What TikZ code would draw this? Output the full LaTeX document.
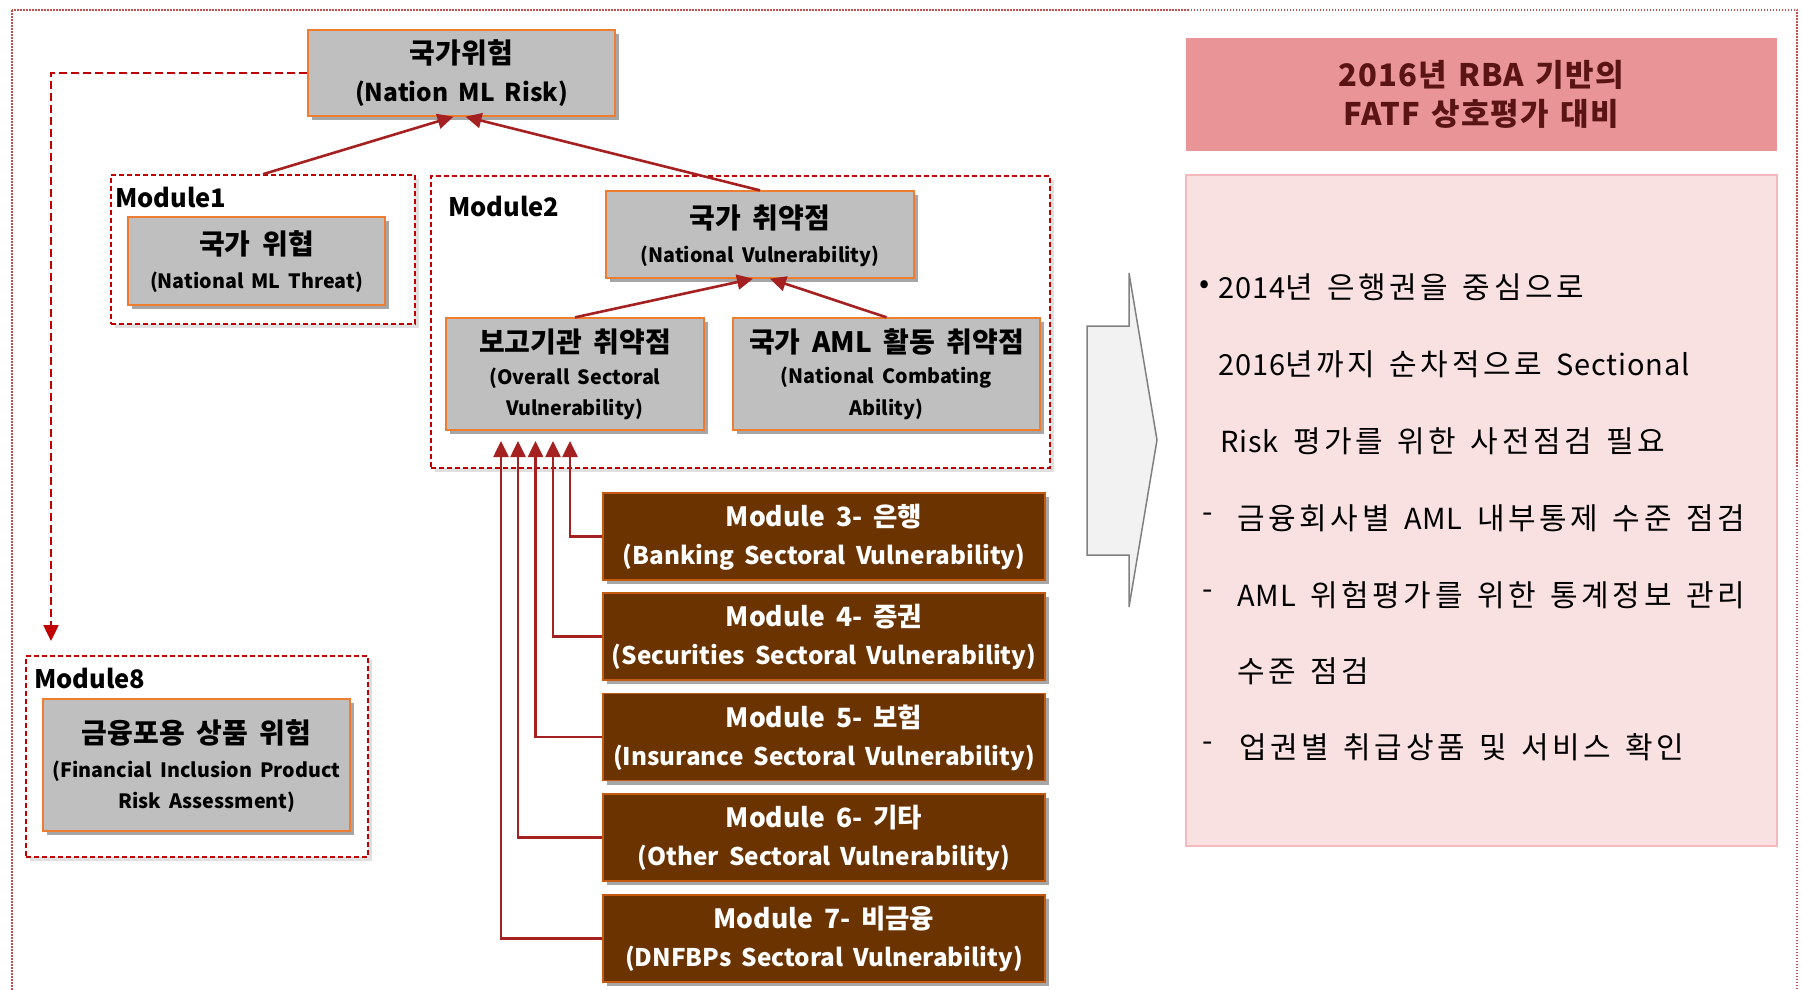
\documentclass[tikz,border=0pt]{standalone}
\usepackage{fontspec}
\setmainfont{Noto Sans CJK KR}
\newfontfamily\bxfam{Noto Sans CJK KR}[WordSpace=1.8]
\newfontfamily\rtfam{Noto Sans CJK KR}[LetterSpace=12,WordSpace=1.4]
\newfontfamily\rtlatfam{Noto Sans CJK KR}[LetterSpace=3,WordSpace=1.4]
\newfontfamily\ttlfam{Noto Sans CJK KR}[LetterSpace=3.5,WordSpace=1.4]
\usetikzlibrary{arrows.meta,shadows,calc}
\definecolor{bgray}{HTML}{BFBFBF}
\definecolor{borange}{HTML}{ED7D31}
\definecolor{modbrown}{HTML}{6B3300}
\definecolor{bedge}{HTML}{C55A11}
\definecolor{arrred}{HTML}{A52121}
\definecolor{dashred}{HTML}{C00000}
\definecolor{dotred}{HTML}{C0504D}
\definecolor{ttlfill}{HTML}{E99598}
\definecolor{ttltext}{HTML}{5A1414}
\definecolor{panfill}{HTML}{F9E1E2}
\definecolor{panedge}{HTML}{F3B9BC}
\definecolor{gfill}{HTML}{F2F2F2}
\definecolor{gedge}{HTML}{808080}
\newcommand{\fntKo}{\bxfam\bfseries\fontsize{28}{32}\selectfont}
\newcommand{\fntEn}{\bxfam\bfseries\fontsize{19.7}{24}\selectfont}
\newcommand{\fntRisk}{\bxfam\bfseries\fontsize{24.5}{28}\selectfont}
\newcommand{\fntBig}{\bxfam\bfseries\fontsize{26.5}{30}\selectfont}
\newcommand{\fntBigE}{\bxfam\bfseries\fontsize{24.3}{28}\selectfont}
\newcommand{\fntLbl}{\bxfam\bfseries\fontsize{25.5}{30}\selectfont}
\newcommand{\fntTtl}{\ttlfam\bfseries\fontsize{31}{35}\selectfont}
\newcommand{\fntRt}{\rtfam\fontsize{30}{34}\selectfont}
\newcommand{\latw}[1]{{\rtlatfam\fontsize{29}{34}\selectfont #1}}
\tikzset{
  graybox/.style={rectangle, draw=borange, line width=1.3pt, fill=bgray, inner sep=0pt,
    drop shadow={shadow xshift=4pt, shadow yshift=-4pt, opacity=0.35, fill=black}},
  brownbox/.style={rectangle, draw=bedge, line width=1.3pt, fill=modbrown, inner sep=0pt,
    minimum width=442pt, minimum height=87pt,
    drop shadow={shadow xshift=4pt, shadow yshift=-4pt, opacity=0.35, fill=black}},
  modframe/.style={rectangle, draw=dashred, line width=1.6pt, dash pattern=on 5pt off 3pt,
    fill=white, inner sep=0pt,
    drop shadow={shadow xshift=4pt, shadow yshift=-4pt, opacity=0.12, fill=black}},
  conn/.style={draw=arrred, line width=2.6pt, -{Triangle[length=16pt,width=15pt]}},
  reddash/.style={draw=dashred, line width=2.4pt, dash pattern=on 8pt off 4pt,
    -{Triangle[length=16pt,width=15pt]}},
  ktxt/.style={inner sep=0pt, font=\fntKo},
  etxt/.style={inner sep=0pt, font=\fntEn},
  wtxt/.style={inner sep=0pt, font=\fntBig, text=white},
  wtxte/.style={inner sep=0pt, font=\fntBigE, text=white},
  lbl/.style={inner sep=0pt, anchor=west, font=\fntLbl},
  rtxt/.style={inner sep=0pt, anchor=west, font=\fntRt},
}
\begin{document}
\begin{tikzpicture}[x=1pt,y=-1pt]
\useasboundingbox (0,0) rectangle (1802,989);
% outer dotted border
\draw[dotred, line width=1.3pt, dash pattern=on 1.5pt off 1.5pt] (12,10) rectangle (1797,1005);

% module frames
\node[modframe, minimum width=304pt, minimum height=149pt] (m1) at (263,249.5) {};
\node[modframe, minimum width=619pt, minimum height=292pt] (m2) at (740.5,322) {};
\node[modframe, minimum width=342pt, minimum height=201pt] (m8) at (197,756.5) {};
\node[lbl] (m1l) at (115,197) {Module1};
\node[lbl] (m2l) at (448,206) {Module2};
\node[lbl] (m8l) at (34,678) {Module8};

% top box
\node[graybox, minimum width=307pt, minimum height=86pt] (risk) at (461.5,73) {};
\node[ktxt] (riskk) at (461.5,53) {국가위험};
\node[inner sep=0pt, font=\fntRisk] (riske) at (461.5,94) {(Nation ML Risk)};

% module1 box
\node[graybox, minimum width=257pt, minimum height=88pt] (thr) at (256.5,261) {};
\node[ktxt] (thrk) at (256.5,244) {국가 위협};
\node[etxt] (thre) at (256.5,282) {(National ML Threat)};

% module2 boxes
\node[graybox, minimum width=308pt, minimum height=87pt] (vul) at (760,234.5) {};
\node[ktxt] (vulk) at (760,218) {국가 취약점};
\node[etxt] (vule) at (760,256) {(National Vulnerability)};

\node[graybox, minimum width=258pt, minimum height=112pt] (sec) at (575,374) {};
\node[ktxt] (seck) at (575,342) {보고기관 취약점};
\node[etxt] (sece1) at (575,378) {(Overall Sectoral};
\node[etxt] (sece2) at (575,409) {Vulnerability)};

\node[graybox, minimum width=307pt, minimum height=112pt] (aml) at (886.5,374) {};
\node[ktxt] (amlk) at (886.5,342) {국가 AML 활동 취약점};
\node[etxt] (amle1) at (886.5,378) {(National Combating};
\node[etxt] (amle2) at (886.5,409) {Ability)};

% module8 box
\node[graybox, minimum width=307pt, minimum height=132pt] (fin) at (196.5,765) {};
\node[ktxt] (fink) at (196.5,733) {금융포용 상품 위험};
\node[etxt] (fine1) at (196.5,771) {(Financial Inclusion Product};
\node[etxt] (fine2) at (207,802) {Risk Assessment)};

% brown module boxes
\node[brownbox] (b3) at (824,536.5) {};
\node[wtxt] (b3a) at (824,517) {Module 3- 은행};
\node[wtxte] (b3b) at (824,557) {(Banking Sectoral Vulnerability)};
\node[brownbox] (b4) at (824,636.5) {};
\node[wtxt] (b4a) at (824,617) {Module 4- 증권};
\node[wtxte] (b4b) at (824,657) {(Securities Sectoral Vulnerability)};
\node[brownbox] (b5) at (824,737) {};
\node[wtxt] (b5a) at (824,717.5) {Module 5- 보험};
\node[wtxte] (b5b) at (824,757.5) {(Insurance Sectoral Vulnerability)};
\node[brownbox] (b6) at (824,837.5) {};
\node[wtxt] (b6a) at (824,818) {Module 6- 기타};
\node[wtxte] (b6b) at (824,858) {(Other Sectoral Vulnerability)};
\node[brownbox] (b7) at (824,938.5) {};
\node[wtxt] (b7a) at (824,919) {Module 7- 비금융};
\node[wtxte] (b7b) at (824,959) {(DNFBPs Sectoral Vulnerability)};

% connectors
\draw[conn] (m1.north) -- ($(risk.south)+(-8,0)$);
\draw[conn] (vul.north) -- ($(risk.south)+(4,0)$);
\draw[conn] (sec.north) -- ($(vul.south)+(-7,0)$);
\draw[conn] (aml.north) -- ($(vul.south)+(10,0)$);
\coordinate (t3) at (570,441);
\coordinate (t4) at (553,441);
\coordinate (t5) at (535.5,441);
\coordinate (t6) at (518,441);
\coordinate (t7) at (501,441);
\draw[conn] (b3.west) -| (t3);
\draw[conn] (b4.west) -| (t4);
\draw[conn] (b5.west) -| (t5);
\draw[conn] (b6.west) -| (t6);
\draw[conn] (b7.west) -| (t7);
\coordinate (m8t) at (51,641);
\draw[reddash] (risk.west) -| (m8t);

% big gray arrow
\draw[fill=gfill, draw=gedge, line width=1.5pt, line join=miter]
  (1087,326) -- (1129,326) -- (1129,273) -- (1157,440) -- (1129,607) -- (1129,555) -- (1087,555) -- cycle;

% right panel
\node[rectangle, fill=ttlfill, inner sep=0pt, minimum width=591pt, minimum height=113pt] (ttl) at (1481.5,94.5) {};
\node[inner sep=0pt, font=\fntTtl, text=ttltext] (ttl1) at (1481,75) {2016년 RBA 기반의};
\node[inner sep=0pt, font=\fntTtl, text=ttltext] (ttl2) at (1481,114) {FATF 상호평가 대비};

\node[rectangle, fill=panfill, draw=panedge, line width=1.5pt, inner sep=0pt,
  minimum width=591pt, minimum height=671pt] (pan) at (1481.5,510.5) {};
\node[rtxt] (bul) at (1199,287) {•};
\node[rtxt] (r1) at (1218,287) {\latw{2014}년 은행권을 중심으로};
\node[rtxt] (r2) at (1218,364) {\latw{2016}년까지 순차적으로 \latw{Sectional}};
\node[rtxt] (r3) at (1220,441) {\latw{Risk} 평가를 위한 사전점검 필요};
\node[rtxt] (d1) at (1202,518) {-};
\node[rtxt] (r4) at (1237,518) {금융회사별 \latw{AML} 내부통제 수준 점검};
\node[rtxt] (d2) at (1202,595) {-};
\node[rtxt] (r5) at (1237,595) {\latw{AML} 위험평가를 위한 통계정보 관리};
\node[rtxt] (r6) at (1237,671) {수준 점검};
\node[rtxt] (d3) at (1202,747) {-};
\node[rtxt] (r7) at (1239,747) {업권별 취급상품 및 서비스 확인};
\end{tikzpicture}
\end{document}
